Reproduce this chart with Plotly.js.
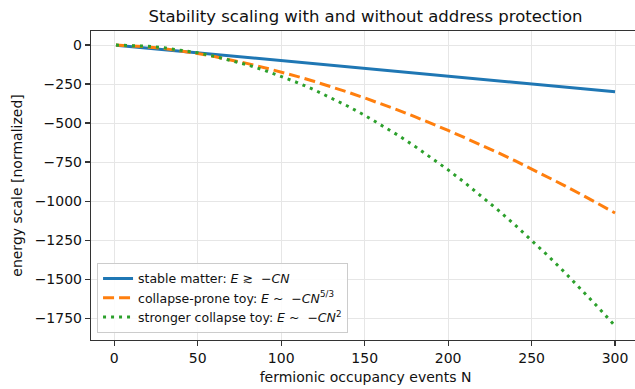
<!DOCTYPE html>
<html>
<head>
<meta charset="utf-8">
<script src="https://cdn.plot.ly/plotly-3.0.1.min.js"></script>
<style>
html, body { margin: 0; padding: 0; overflow: hidden; background: #fff; }
#chart { width: 640px; height: 389px; }
</style>
</head>
<body>
<div id="chart"></div>
<script>
// Values
const N = [1, 10, 20, 30, 40, 50, 60, 70, 80, 90, 100, 110, 120, 130, 140, 150,
           160, 170, 180, 190, 200, 210, 220, 230, 240, 250, 260, 270, 280, 290, 300];
const stableMatter = [-1, -10, -20, -30, -40, -50, -60, -70, -80, -90, -100, -110, -120, -130, -140, -150,
                      -160, -170, -180, -190, -200, -210, -220, -230, -240, -250, -260, -270, -280, -290, -300];
const collapseProne = [-0.1, -3.7, -11.8, -23, -37, -54, -74, -95, -119, -145, -172, -202, -234, -267, -302, -339,
                       -377, -417, -459, -502, -547, -594, -641, -690, -741, -794, -847, -902, -959, -1017, -1076];
const strongerCollapse = [0, -2, -8, -18, -32, -50, -72, -98, -128, -162, -200, -242, -288, -338, -392, -450,
                          -512, -578, -648, -722, -800, -882, -968, -1058, -1152, -1250, -1352, -1458, -1568, -1682, -1800];
const seriesNames = [
  'stable matter: <i>E</i> ≳  −<i>CN</i>',
  'collapse-prone toy: <i>E</i> ~  −<i>CN</i><sup>5/3</sup>',
  'stronger collapse toy: <i>E</i> ~  −<i>CN</i><sup>2</sup>'
];

const font = 'DejaVu Sans, sans-serif';
const traces = [
  { x: N, y: stableMatter, name: seriesNames[0], mode: 'lines',
    line: { color: '#1f77b4', width: 3 } },
  { x: N, y: collapseProne, name: seriesNames[1], mode: 'lines',
    line: { color: '#ff7f0e', width: 3, dash: '11px,5px' } },
  { x: N, y: strongerCollapse, name: seriesNames[2], mode: 'lines',
    line: { color: '#2ca02c', width: 3, dash: '3px,5px' } }
];

const axisCommon = {
  showline: true, mirror: true, linecolor: '#333', linewidth: 1.2,
  ticks: 'outside', ticklen: 5, tickwidth: 1.2, tickcolor: '#333',
  showgrid: true, gridcolor: '#e6e6e6', gridwidth: 1,
  zeroline: false,
  tickfont: { family: font, size: 14, color: '#111' }
};

const layout = {
  width: 640, height: 389,
  margin: { l: 91, r: 0, t: 31, b: 49 },
  paper_bgcolor: '#fff', plot_bgcolor: '#fff',
  font: { family: font, color: '#111' },
  title: { text: 'Stability scaling with and without address protection',
           font: { family: font, size: 16.5, color: '#111' },
           x: 0.5, xref: 'paper', y: 1 - 16/389, yanchor: 'middle' },
  xaxis: Object.assign({}, axisCommon, {
    range: [-13.95, 314.95], tickvals: [0, 50, 100, 150, 200, 250, 300],
    title: { text: 'fermionic occupancy events N', font: { family: font, size: 14 }, standoff: 7 }
  }),
  yaxis: Object.assign({}, axisCommon, {
    range: [-1890, 90], tickvals: [0, -250, -500, -750, -1000, -1250, -1500, -1750],
    title: { text: 'energy scale [normalized]', font: { family: font, size: 14 }, standoff: 8 }
  }),
  showlegend: true,
  legend: {
    x: 0.011, y: 0.023, xanchor: 'left', yanchor: 'bottom',
    bgcolor: 'rgba(255,255,255,0.85)', bordercolor: '#cccccc', borderwidth: 1,
    font: { family: font, size: 12.5, color: '#111' },
    tracegroupgap: 2
  }
};

Plotly.newPlot('chart', traces, layout, { displayModeBar: false, staticPlot: true });
</script>
</body>
</html>
